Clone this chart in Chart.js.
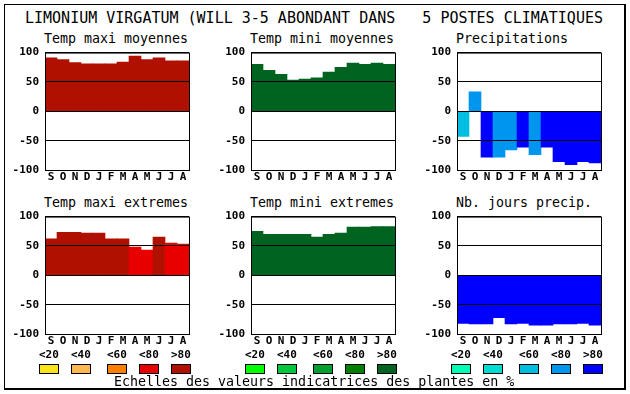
<!DOCTYPE html>
<html>
<head>
<meta charset="utf-8">
<script src="https://cdn.jsdelivr.net/npm/chart.js@4/dist/chart.umd.min.js"></script>
<style>
  html, body { margin:0; padding:0; background:#fff; }
  body { width:630px; height:394px; position:relative; overflow:hidden; font-family:"DejaVu Sans Mono", monospace; color:#000; }
  .frame { position:absolute; left:4px; top:4px; width:622px; height:386px; box-sizing:border-box;
           border-left:1px solid #000; border-top:1px solid #000; border-right:2px solid #000; border-bottom:2px solid #000; }
  .txt { position:absolute; white-space:pre; line-height:1; }
  .title { font-size:15px; }
  .sub { font-size:13.3px; }
  .lab { font-size:11px; font-weight:bold; }
  .sw { position:absolute; width:20px; height:10px; box-sizing:border-box; border:1px solid #000; }
  .box { position:absolute; width:194px; height:146px; }
</style>
</head>
<body>
<div class="frame"></div>
<div class="txt title" style="left:25px;top:10.5px">LIMONIUM VIRGATUM (WILL 3-5 ABONDANT DANS   5 POSTES CLIMATIQUES</div>
<div id="charts"></div>
<div id="legend"></div>
<div class="txt sub" style="left:114px;top:375px">Echelles des valeurs indicatrices des plantes en %</div>
<script>
// ---- data ----
const months = ['S','O','N','D','J','F','M','A','M','J','J','A'];
const tempMaxiMoy = [91, 88, 83, 81, 81, 81, 84, 94, 88, 91, 86, 86];
const tempMiniMoy = [80, 70, 63, 53, 55, 57, 67, 75, 82, 80, 82, 80];
const precip      = [-43, 33, -78, -78, -66, -61, -74, -61, -86, -91, -86, -88];
const tempMaxiExt = [62, 73, 73, 72, 72, 62, 62, 48, 43, 65, 55, 53];
const tempMiniExt = [75, 70, 70, 70, 70, 65, 70, 72, 82, 82, 83, 83];
const nbJours     = [-82, -83, -83, -72, -83, -82, -85, -85, -83, -83, -82, -85];
// class index (0:<20 1:<40 2:<60 3:<80 4:>80) per month
const clsMaxiMoy = [4,4,4,4,4,4,4,4,4,4,4,4];
const clsMiniMoy = [4,4,4,4,4,4,4,4,4,4,4,4];
const clsPrecip  = [2,3,4,3,3,4,3,4,4,4,4,4];
const clsMaxiExt = [4,4,4,4,4,4,4,3,3,4,3,3];
const clsMiniExt = [4,4,4,4,4,4,4,4,4,4,4,4];
const clsNbJours = [4,4,4,4,4,4,4,4,4,4,4,4];
const scaleLabels = ['<20','<40','<60','<80','>80'];
const redScale   = ['#f8e418','#ffb850','#ff8000','#e80000','#b01000'];
const greenScale = ['#00ff00','#00c83c','#00a030','#008000','#006420'];
const blueScale  = ['#00ffb4','#00dcd2','#00bee0','#0096f0','#0000ff'];
const yTicks = [100, 50, 0, -50, -100];

const panels = [
  {title:'Temp maxi moyennes', data:tempMaxiMoy, cls:clsMaxiMoy, pal:redScale,   x:45,  y:50},
  {title:'Temp mini moyennes', data:tempMiniMoy, cls:clsMiniMoy, pal:greenScale, x:251, y:50},
  {title:'Precipitations',     data:precip,      cls:clsPrecip,  pal:blueScale,  x:457, y:50},
  {title:'Temp maxi extremes', data:tempMaxiExt, cls:clsMaxiExt, pal:redScale,   x:45,  y:214},
  {title:'Temp mini extremes', data:tempMiniExt, cls:clsMiniExt, pal:greenScale, x:251, y:214},
  {title:'Nb. jours precip.',  data:nbJours,     cls:clsNbJours, pal:blueScale,  x:457, y:214}
];

const framePlugin = {
  id:'frame',
  afterDraw(chart){
    const {ctx, chartArea:a} = chart;
    ctx.save();
    ctx.strokeStyle = '#000';
    ctx.lineWidth = 1;
    ctx.strokeRect(a.left + 0.5, a.top + 0.5, a.right - a.left, a.bottom - a.top);
    ctx.restore();
  }
};

const tickFont = {family:'DejaVu Sans Mono', weight:'bold', size:11};
const chartsDiv = document.getElementById('charts');

panels.forEach(p => {
  const t = document.createElement('div');
  t.className = 'txt sub';
  t.style.left = (p.x - 1) + 'px';
  t.style.top = (p.y - 18.5) + 'px';
  t.textContent = p.title;
  chartsDiv.appendChild(t);

  const box = document.createElement('div');
  box.className = 'box';
  box.style.left = (p.x - 40) + 'px';
  box.style.top = (p.y - 10) + 'px';
  const cv = document.createElement('canvas');
  box.appendChild(cv);
  chartsDiv.appendChild(box);

  new Chart(cv, {
    type:'bar',
    data:{
      labels: months,
      datasets:[{
        data: p.data,
        backgroundColor: p.cls.map(c => p.pal[c]),
        borderWidth:0,
        barPercentage:1,
        categoryPercentage:1
      }]
    },
    options:{
      responsive:true,
      maintainAspectRatio:false,
      animation:false,
      events:[],
      layout:{padding:{top:10, right:10, left:0, bottom:0}},
      plugins:{legend:{display:false}, tooltip:{enabled:false}, title:{display:false}},
      scales:{
        x:{
          grid:{display:false, drawTicks:false},
          border:{display:false},
          ticks:{color:'#000', font:tickFont, padding:1, maxRotation:0, autoSkip:false},
          afterFit(s){ s.height = 16; }
        },
        y:{
          min:-100, max:100,
          afterBuildTicks(s){ s.ticks = yTicks.map(v => ({value:v})); },
          grid:{color:'#000', lineWidth:1, drawTicks:false, z:1},
          border:{display:false},
          ticks:{color:'#000', font:tickFont, padding:6},
          afterFit(s){ s.width = 40; }
        }
      }
    },
    plugins:[framePlugin]
  });
});

// legend scales
const legendDiv = document.getElementById('legend');
const legendCols = [39, 71, 107, 139, 171];
[[0, redScale],[206, greenScale],[412, blueScale]].forEach(([off, pal]) => {
  pal.forEach((col, i) => {
    const l = document.createElement('div');
    l.className = 'txt lab';
    l.style.left = (off + legendCols[i]) + 'px';
    l.style.top = '349px';
    l.textContent = scaleLabels[i];
    legendDiv.appendChild(l);
    const s = document.createElement('div');
    s.className = 'sw';
    s.style.left = (off + legendCols[i]) + 'px';
    s.style.top = '364px';
    s.style.background = col;
    legendDiv.appendChild(s);
  });
});
</script>
</body>
</html>
